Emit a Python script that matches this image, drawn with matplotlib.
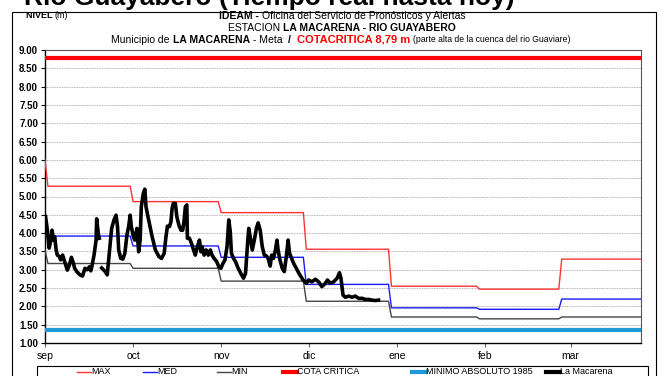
import numpy as np
import matplotlib.pyplot as plt
from matplotlib.lines import Line2D
from matplotlib.patches import Rectangle

# Eje X en dias contados desde el 1 de septiembre
meses = ['sep', 'oct', 'nov', 'dic', 'ene', 'feb', 'mar']
dias_mes = [0, 30, 60, 90, 120, 150, 179]
dia_final = 203

# Dias en que cambian los valores mensuales historicos
cambio = [29, 59, 88, 117, 147, 175]

# Valores historicos (m): primer dato + valor de cada mes
nivel_max_ini = 6.00
nivel_max = [5.28, 4.86, 4.56, 3.56, 2.55, 2.47, 3.29]
nivel_med_ini = 3.92
nivel_med = [3.92, 3.65, 3.34, 2.60, 1.96, 1.92, 2.20]
nivel_min_ini = 3.54
nivel_min = [3.17, 3.04, 2.69, 2.14, 1.71, 1.66, 1.71]

cota_critica = 8.79
minimo_1985 = 1.36

# Lecturas de la estacion La Macarena (dia, nivel)
dias = [0.2, 0.8, 1.4, 2.0, 2.4, 2.9, 3.3, 3.8, 4.2, 4.9, 5.3, 6.0, 6.7, 7.6,
        8.3, 9.0, 9.7, 10.1, 10.8, 11.9, 12.8, 13.6, 14.4, 15.1, 15.6, 16.0,
        16.7, 17.4, 17.6, 18.2, 18.5, 19.0, 19.3, 20.5, 21.2, 21.9, 22.7,
        23.5, 24.2, 24.7, 25.1, 25.8, 26.5, 27.2, 27.9, 28.5, 29.0, 29.4,
        30.1, 30.6, 31.3, 31.9, 32.4, 32.8, 33.5, 34.0, 34.4, 35.3, 36.5,
        37.6, 38.8, 39.7, 40.6, 41.2, 41.7, 42.4, 42.9, 43.3, 43.7, 44.4,
        44.9, 45.6, 46.3, 46.9, 47.4, 47.8, 48.3, 48.5, 49.2, 49.9, 50.6,
        51.2, 51.9, 52.6, 53.1, 53.5, 54.2, 54.9, 55.6, 56.3, 56.9, 57.6,
        58.5, 59.2, 59.9, 60.6, 61.3, 62.0, 62.6, 63.1, 63.5, 64.2, 64.9,
        65.8, 66.7, 67.6, 68.3, 69.0, 69.4, 69.9, 70.6, 71.3, 72.0, 72.6,
        73.3, 74.0, 74.7, 75.4, 76.0, 76.7, 77.2, 77.8, 78.5, 79.0, 79.4,
        79.9, 80.8, 81.5, 82.2, 82.8, 83.3, 84.0, 84.7, 85.6, 86.5, 87.2,
        87.9, 89.0, 89.8, 90.9, 92.1, 93.2, 94.3, 95.5, 96.2, 97.2, 98.3,
        99.5, 100.3, 100.8, 101.5, 102.3, 103.4, 104.6, 105.7, 106.8, 108.0,
        109.1, 110.2, 111.4, 112.5, 113.6]
nivel = [4.45, 4.08, 3.59, 3.81, 4.08, 3.81, 3.90, 3.54, 3.40, 3.36, 3.27,
         3.40, 3.22, 2.99, 3.13, 3.34, 3.17, 3.04, 2.95, 2.86, 2.83, 3.04,
         3.00, 3.08, 2.97, 3.10, 3.40, 3.81, 4.39, 3.95, 3.86, np.nan, 3.05,
         2.95, 2.86, 3.45, 4.13, 4.36, 4.49, 4.18, 3.54, 3.31, 3.29, 3.45,
         3.95, 4.18, 4.49, 4.18, 3.90, 3.81, 4.13, 3.49, 3.81, 4.72, 5.09,
         5.20, 4.72, 4.36, 3.90, 3.54, 3.36, 3.31, 3.45, 3.90, 4.19, 4.18,
         4.31, 4.68, 4.81, 4.81, 4.45, 4.22, 4.08, 4.08, 4.36, 4.72, 4.77,
         3.86, 3.86, 3.72, 3.54, 3.40, 3.63, 3.81, 3.49, 3.63, 3.40, 3.54,
         3.40, 3.54, 3.40, 3.31, 3.22, 3.08, 3.04, 3.17, 3.27, 3.63, 4.36,
         4.04, 3.45, 3.31, 3.22, 3.04, 2.90, 2.77, 2.90, 3.72, 4.13, 3.90,
         3.54, 3.81, 4.13, 4.28, 4.08, 3.63, 3.40, 3.38, 3.31, 3.10, 3.40,
         3.31, 3.54, 3.81, 3.54, 3.31, 3.04, 2.95, 3.36, 3.81, 3.45, 3.31,
         3.17, 3.04, 2.90, 2.81, 2.72, 2.63, 2.72, 2.67, 2.74, 2.67, 2.54,
         2.63, 2.72, 2.63, 2.67, 2.77, 2.92, 2.77, 2.31, 2.25, 2.28, 2.25,
         2.28, 2.22, 2.22, 2.19, 2.19, 2.17, 2.16, 2.17]

FONT = ['Liberation Sans Narrow', 'Liberation Sans', 'DejaVu Sans']
plt.rcParams['font.family'] = FONT


def escalones(inicial, valores):
    # serie escalonada: un dia de transicion en cada cambio de mes
    xs, ys = [0, 1], [inicial, valores[0]]
    for i, c in enumerate(cambio):
        xs += [c, c + 1]
        ys += [valores[i], valores[i + 1]]
    xs.append(dia_final)
    ys.append(valores[-1])
    return xs, ys


W, H = 663, 376
fig = plt.figure(figsize=(W / 100, H / 100), dpi=100)
ax = fig.add_axes([45 / W, 1 - 343 / H, 596 / W, 293 / H])

ax.axhline(cota_critica, color='#ff0000', lw=3.0, zorder=3)
ax.axhline(minimo_1985, color='#1b9ad6', lw=3.0, zorder=3)
x, y = escalones(nivel_max_ini, nivel_max)
ax.plot(x, y, color='#ff3333', lw=1.0, zorder=4)
x, y = escalones(nivel_med_ini, nivel_med)
ax.plot(x, y, color='#1a1aff', lw=1.0, zorder=4)
x, y = escalones(nivel_min_ini, nivel_min)
ax.plot(x, y, color='#444444', lw=1.0, zorder=4)
ax.plot(dias, nivel, color='black', lw=2.6, zorder=5, solid_joinstyle='round')

ax.set_xlim(0, dia_final)
ax.set_ylim(1, 9)
ax.set_yticks(np.arange(1, 9.01, 0.5))
ax.set_yticklabels(['%.2f' % v for v in np.arange(1, 9.01, 0.5)],
                   fontsize=7, fontweight='bold', family=['Liberation Sans'])
ax.set_xticks(dias_mes)
ax.set_xticklabels(meses, fontsize=7.5, family=['Liberation Sans'])
ax.tick_params(axis='y', direction='out', length=3, width=0.8, pad=2)
ax.tick_params(axis='x', direction='out', length=3, width=0.8, pad=3, color='#666666')
ax.grid(axis='y', color='#9a9a9a', lw=0.6, linestyle=(0, (1, 1)))
for s in ['left', 'bottom']:
    ax.spines[s].set_linewidth(1.0)
for s in ['top', 'right']:
    ax.spines[s].set_color('#555555')
    ax.spines[s].set_linewidth(0.8)

# marco del area del grafico
fig.patches.append(Rectangle((12 / W, -0.1), 644 / W, 1 - 12 / H + 0.1,
                             transform=fig.transFigure, fill=False,
                             ec='black', lw=0.8))

# titulo grande superior (recortado en el borde)
fig.text(515 / W, 1 - 5 / H, 'Rio Guayabero (Tiempo real hasta hoy)',
         ha='right', va='baseline', fontsize=19, fontweight='bold',
         family=['Liberation Sans'])

renderer = fig.canvas.get_renderer()


def linea_mixta(yc, partes, xc=None, x0=None):
    # escribe varios trozos de texto con distinto estilo en una sola linea
    textos = []
    for txt, kw in partes:
        t = fig.text(0, 1 - yc / H, txt, va='center', ha='left', **kw)
        textos.append(t)
    anchos = [t.get_window_extent(renderer).width for t in textos]
    total = sum(anchos)
    x = x0 if x0 is not None else xc - total / 2
    for t, w in zip(textos, anchos):
        t.set_x(x / W)
        x += w


n = dict(fontsize=7.5)
b = dict(fontsize=7.5, fontweight='bold')
linea_mixta(16, [('NIVEL ', dict(fontsize=6.5, fontweight='bold')),
                 ('(m)', dict(fontsize=6.5))], x0=26)
linea_mixta(16, [('IDEAM - ', b),
                 ('Oficina del Servicio de Pronósticos y Alertas', n)], xc=342)
linea_mixta(28, [('ESTACION ', n),
                 ('LA MACARENA - RIO GUAYABERO', b)], xc=342)
linea_mixta(40, [('Municipio de ', n), ('LA MACARENA', b), (' - Meta  ', n),
                 ('/  ', b),
                 ('COTACRITICA 8,79 m ', dict(fontsize=8, fontweight='bold', color='#ff0000')),
                 ('(parte alta de la cuenca del rio Guaviare)', dict(fontsize=6.2))],
            xc=341)

# leyenda
fig.patches.append(Rectangle((37 / W, -0.1), 611 / W, 0.1 + 1 - 366 / H,
                             transform=fig.transFigure, fill=False,
                             ec='black', lw=0.8))
leyenda = [('MAX', '#ff3333', 1.0, 77), ('MED', '#1a1aff', 1.0, 143),
           ('MIN', '#444444', 1.0, 217), ('COTA CRITICA', '#ff0000', 3.0, 283),
           ('MINIMO ABSOLUTO 1985', '#1b9ad6', 3.0, 412),
           ('La Macarena', 'black', 3.0, 546)]
for etiqueta, color, lw, xl in leyenda:
    fig.add_artist(Line2D([xl / W, (xl + 14) / W], [1 - 372 / H] * 2,
                          transform=fig.transFigure, color=color, lw=lw))
    fig.text((xl + 14) / W, 1 - 372 / H, etiqueta, va='center', ha='left',
             fontsize=6.5)

fig.savefig('out.png', dpi=100)
